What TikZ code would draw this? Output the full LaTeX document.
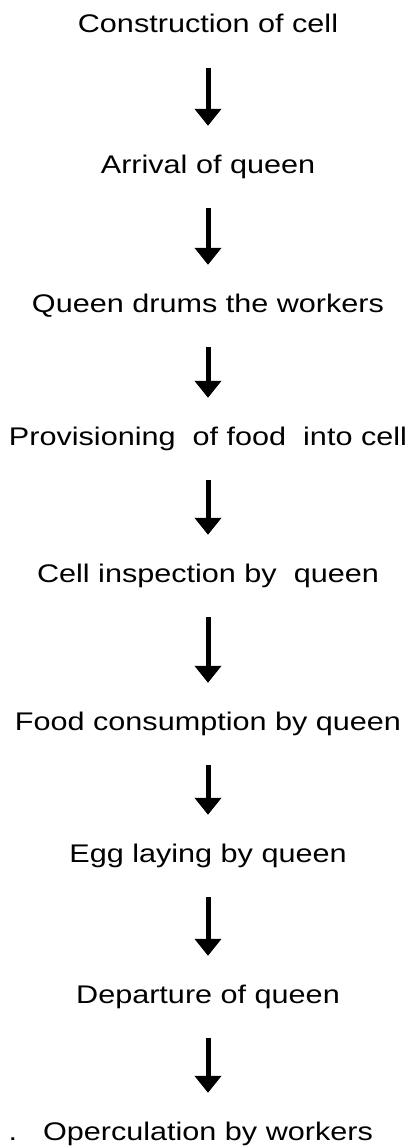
\documentclass[tikz,border=0pt]{standalone}
\usepackage{fontspec}
\setmainfont{Liberation Sans}[FakeStretch=1.2]
\usetikzlibrary{arrows.meta}
\usetikzlibrary{positioning}

\begin{document}
\begin{tikzpicture}[
  x=1pt, y=-1pt,
  every node/.style={inner sep=0pt,text height=18pt,text depth=5pt,font=\fontsize{25.5}{30}\selectfont},
  flow/.style={line width=5pt,-{Triangle[width=26pt,length=17pt]},shorten <=30pt,shorten >=29pt}
]
  \useasboundingbox (0,0) rectangle (410,1148);
  % steps, top to bottom
  \node[anchor=base] (cell)   at (208,33)   {Construction of cell};
  \node[anchor=base] (arr)    at (208,173)  {Arrival of queen};
  \node[anchor=base] (drum)   at (208,312)  {Queen drums the workers};
  \node[anchor=base] (food)   at (208,445)  {Provisioning\ \ of food\ \ into cell};
  \node[anchor=base] (insp)   at (208,582)  {Cell inspection by\ \ queen};
  \node[anchor=base] (eat)    at (208,730)  {Food consumption by queen};
  \node[anchor=base] (egg)    at (208,862)  {Egg laying by queen};
  \node[anchor=base] (dep)    at (208,1003) {Departure of queen};
  \node[anchor=base] (oper)   at (208,1140) {Operculation by workers};
  \node[anchor=base] (dot)    at (13,1140)  {.};
  \draw[flow] (cell) -- (arr);
  \draw[flow] (arr) -- (drum);
  \draw[flow] (drum) -- (food);
  \draw[flow] (food) -- (insp);
  \draw[flow] (insp) -- (eat);
  \draw[flow] (eat) -- (egg);
  \draw[flow] (egg) -- (dep);
  \draw[flow] (dep) -- (oper);
\end{tikzpicture}
\end{document}
